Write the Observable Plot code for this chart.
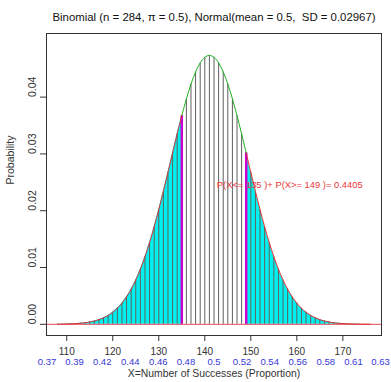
<!DOCTYPE html>
<html>
<head>
<meta charset="utf-8">
<script src="https://cdn.jsdelivr.net/npm/d3@7"></script>
<script src="https://cdn.jsdelivr.net/npm/@observablehq/plot@0.6"></script>
<style>
  html, body { margin: 0; padding: 0; background: #fff; }
  svg { font-family: "Liberation Sans", Arial, sans-serif; }
</style>
</head>
<body>
<div id="chart"></div>
<script>
// Binomial(n = 284, p = 0.5) probabilities, x = 108 .. 176 (read/estimated)
const successes = d3.range(108, 177);
const probs = [
  0.0000221, 0.0000350, 0.0000545, 0.0000837, 0.000127, 0.000190, 0.000279, 0.000405,
  0.000581, 0.000820, 0.001142, 0.001567, 0.002121, 0.002831, 0.003726, 0.004835,
  0.006186, 0.007804, 0.009708, 0.011908, 0.014402, 0.017174, 0.020194, 0.023412,
  0.026764, 0.030168, 0.033529, 0.036744, 0.039703, 0.042301, 0.044438, 0.046031,
  0.047014, 0.047346, 0.047014, 0.046031, 0.044438, 0.042301, 0.039703, 0.036744,
  0.033529, 0.030168, 0.026764, 0.023412, 0.020194, 0.017174, 0.014402, 0.011908,
  0.009708, 0.007804, 0.006186, 0.004835, 0.003726, 0.002831, 0.002121, 0.001567,
  0.001142, 0.000820, 0.000581, 0.000405, 0.000279, 0.000190, 0.000127, 0.0000837,
  0.0000545, 0.0000350, 0.0000221, 0.0000138, 0.0000085
];
const lowerCut = 135;
const upperCut = 149;
const xTicks = [110, 120, 130, 140, 150, 160, 170];
const yTicks = [0, 0.01, 0.02, 0.03, 0.04];
const propPositions = [105.7, 111.7, 117.7, 123.8, 129.9, 135.9, 142.0, 148.1, 154.1, 160.2, 166.3, 172.3, 178.2];
const propLabels = ["0.37", "0.39", "0.42", "0.44", "0.46", "0.48", "0.5", "0.52", "0.54", "0.56", "0.58", "0.61", "0.63"];
const titleText = "Binomial (n = 284, \u03c0 = 0.5), Normal(mean = 0.5,  SD = 0.02967)";
const annotation = "P(X<= 135 )+ P(X>= 149 )= 0.4405";
const annotationPos = {x: 142.6, y: 0.0246};
const xLabel = "X=Number of Successes (Proportion)";
const yLabel = "Probability";

const data = successes.map((x, i) => ({x, p: probs[i]}));
const lowerTail = data.filter(d => d.x <= lowerCut);
const upperTail = data.filter(d => d.x >= upperCut);
const middle = data.filter(d => d.x >= lowerCut && d.x <= upperCut);
const cuts = data.filter(d => d.x === lowerCut || d.x === upperCut);

const font = "Liberation Sans, Arial, sans-serif";

const chart = Plot.plot({
  width: 391,
  height: 382,
  marginLeft: 46,
  marginRight: 10,
  marginTop: 33,
  marginBottom: 47,
  style: {fontFamily: font, fontSize: "10px", background: "#fff"},
  x: {domain: [105.6, 178.4], label: null},
  y: {domain: [-0.00197, 0.0512], label: null},
  marks: [
    Plot.areaY(lowerTail, {x: "x", y: "p", curve: "catmull-rom", fill: "#00f0f0"}),
    Plot.areaY(upperTail, {x: "x", y: "p", curve: "catmull-rom", fill: "#00f0f0"}),
    Plot.ruleX(data, {x: "x", y1: 0, y2: "p", stroke: "#606060", strokeWidth: 1}),
    Plot.ruleX(cuts, {x: "x", y1: 0, y2: "p", stroke: "#cc00cc", strokeWidth: 2.5}),
    Plot.ruleY([0], {stroke: "#e04858", strokeWidth: 1}),
    Plot.line(lowerTail, {x: "x", y: "p", curve: "catmull-rom", stroke: "#e03030", strokeWidth: 1}),
    Plot.line(upperTail, {x: "x", y: "p", curve: "catmull-rom", stroke: "#e03030", strokeWidth: 1}),
    Plot.line(middle, {x: "x", y: "p", curve: "catmull-rom", stroke: "#20b020", strokeWidth: 1}),
    Plot.text([annotation], {x: annotationPos.x, y: annotationPos.y, text: d => d, textAnchor: "start", fill: "#e83838", fontSize: 9.4}),
    Plot.frame({stroke: "#333"}),
    Plot.axisX(xTicks, {tickSize: 6, tickPadding: 6, stroke: "#333", fill: "#333", fontSize: 10, label: null}),
    Plot.axisY(yTicks, {tickSize: 6, tickFormat: () => "", stroke: "#333", label: null}),
    Plot.text(yTicks, {y: d => d, text: d => d3.format(".2f")(d), frameAnchor: "left", dx: -14, rotate: -90, fill: "#333", fontSize: 10.5}),
    Plot.text(propPositions, {x: d => d, text: (d, i) => propLabels[i], frameAnchor: "bottom", dy: 29, fill: "#3838d8", fontSize: 9.5}),
    Plot.text([xLabel], {text: d => d, frameAnchor: "bottom", dy: 41, fill: "#333", fontSize: 10.4}),
    Plot.text([yLabel], {text: d => d, frameAnchor: "left", dx: -36, rotate: -90, fill: "#333", fontSize: 10.5}),
    Plot.text([titleText], {text: d => d, frameAnchor: "top", dy: -21, fill: "#111", fontSize: 11.4})
  ]
});
document.getElementById("chart").appendChild(chart);
</script>
</body>
</html>
